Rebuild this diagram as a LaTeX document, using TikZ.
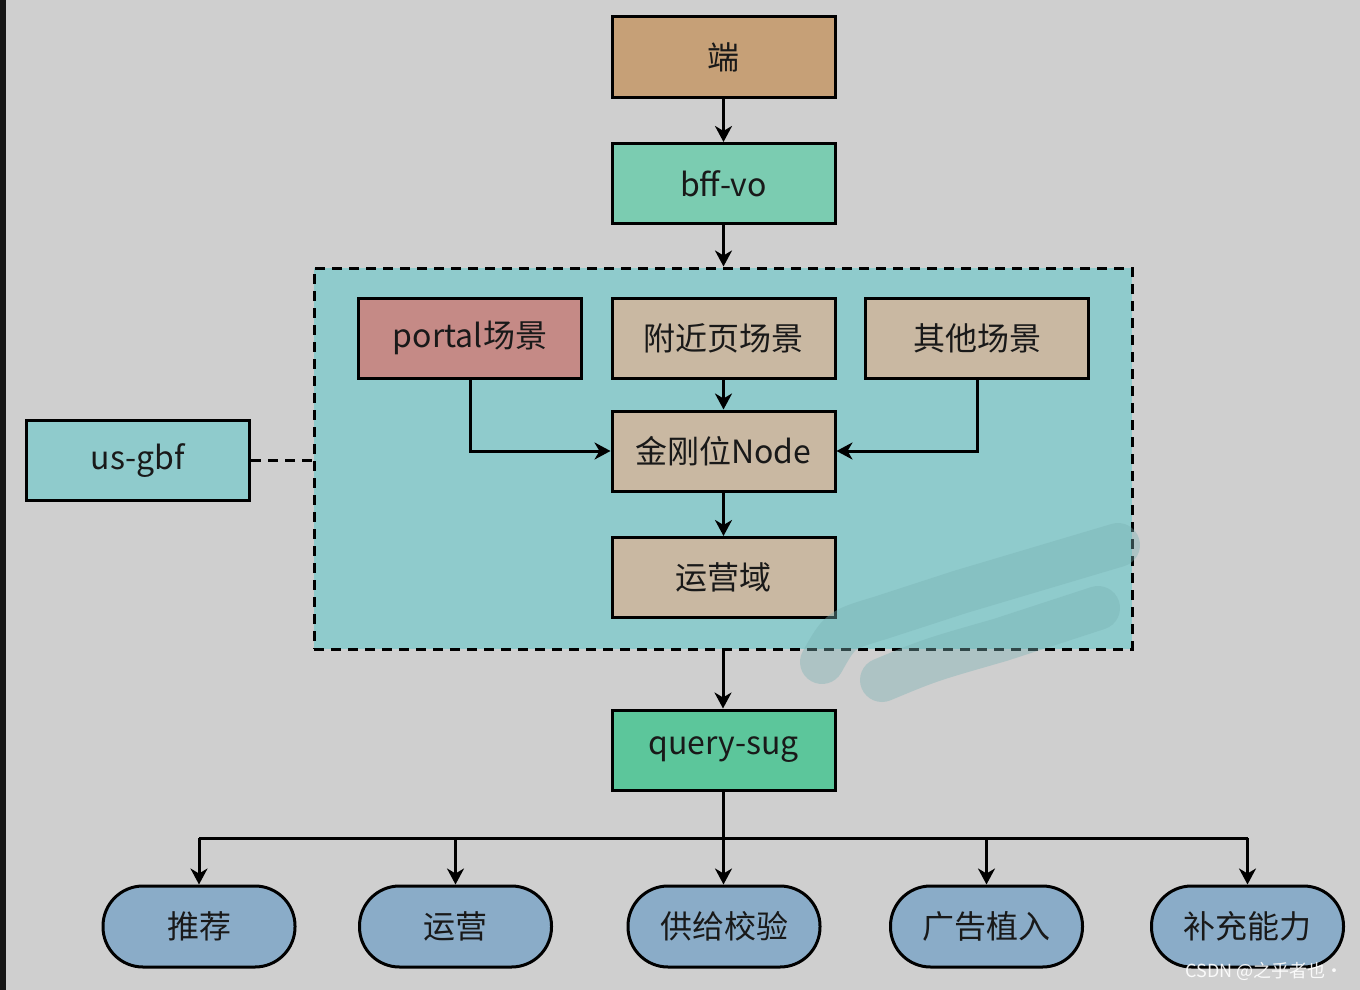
\documentclass[tikz,border=0pt]{standalone}
\usepackage{fontspec}
\setmainfont{Noto Sans CJK SC}
\usetikzlibrary{arrows.meta}
\definecolor{bgc}{HTML}{CFCFCF}
\definecolor{strip}{HTML}{161616}
\definecolor{duanc}{HTML}{C6A077}
\definecolor{bffc}{HTML}{7BCCB1}
\definecolor{grpc}{HTML}{8FCBCC}
\definecolor{portalc}{HTML}{C58A86}
\definecolor{beigec}{HTML}{C9B8A2}
\definecolor{qsc}{HTML}{5CC69B}
\definecolor{pillc}{HTML}{8AACC8}
\definecolor{smudgec}{HTML}{7AB2B4}
\tikzset{
  box/.style={draw=black, line width=3pt, minimum width=223pt, minimum height=80pt, inner sep=0pt, font=\fontsize{32}{34}\selectfont, text=black!90},
  pill/.style={box, minimum width=192pt, minimum height=81pt, rounded corners=40pt, fill=pillc},
  grpbox/.style={draw=black, line width=3pt, dash pattern=on 10pt off 7pt, fill=grpc, minimum width=818pt, minimum height=381pt, inner sep=0pt},
  arr/.style={line width=3pt, -{Stealth[length=16pt, width=17pt, inset=5pt]}},
  conn/.style={line width=3pt},
  smudge/.style={line width=44pt, line cap=round, line join=round, draw=smudgec, opacity=0.4}
}
\begin{document}
\begin{tikzpicture}[x=1pt, y=-1pt]
\useasboundingbox (0,0) rectangle (1360,990);
\fill[bgc] (0,0) rectangle (1360,990);
\fill[strip] (0,0) rectangle (6,990);

\node[box, fill=duanc] (duan) at (723.5,57) {端};
\node[box, fill=bffc] (bff) at (723.5,183.5) {bff-vo};

\node[grpbox] (grp) at (723,458.5) {};

\node[box, fill=portalc] (portal) at (470,338) {portal场景};
\node[box, fill=beigec] (nearby) at (723.5,338) {附近页场景};
\node[box, fill=beigec] (other) at (977,338) {其他场景};
\node[box, fill=beigec] (jgw) at (723.5,451) {金刚位Node};
\node[box, fill=beigec] (yyy) at (723.5,577.5) {运营域};

\node[box, fill=grpc] (usgbf) at (138,460.5) {us-gbf};

\node[box, fill=qsc] (qs) at (723.5,750) {query-sug};

\node[pill] (p1) at (199,926.5) {推荐};
\node[pill] (p2) at (455.5,926.5) {运营};
\node[pill] (p3) at (724,926.5) {供给校验};
\node[pill] (p4) at (986.5,926.5) {广告植入};
\node[pill] (p5) at (1247.5,926.5) {补充能力};

\draw[arr] (duan) -- (bff);
\draw[arr] (bff.south) -- (bff.south |- grp.north);
\draw[conn, dash pattern=on 10pt off 7pt] (usgbf.east) -- (usgbf.east -| grp.west);
\draw[arr] (portal.south) |- (jgw.west);
\draw[arr] (other.south) |- (jgw.east);
\draw[arr] (nearby) -- (jgw);
\draw[arr] (jgw) -- (yyy);
\draw[arr] (grp.south) -- (grp.south |- qs.north);

\coordinate (bus) at (723.5,838);
\draw[conn] (qs.south) -- (bus);
\draw[conn] (p1.north |- bus) -- (p5.north |- bus);
\draw[arr] (p1.north |- bus) -- (p1.north);
\draw[arr] (p2.north |- bus) -- (p2.north);
\draw[arr] (bus) -- (bus |- p3.north);
\draw[arr] (p4.north |- bus) -- (p4.north);
\draw[arr] (p5.north |- bus) -- (p5.north);

% redaction smudge
\draw[smudge] (822,662) .. controls (840,630) .. (880,618) -- (960,592) -- (1118,545);
\draw[smudge] (882,680) .. controls (930,660) .. (1000,640) -- (1098,608);

\node[text=white, opacity=0.9, font=\fontsize{18}{20}\selectfont, anchor=east] (wm) at (1347,971) {CSDN @之乎者也·};
\end{tikzpicture}
\end{document}
